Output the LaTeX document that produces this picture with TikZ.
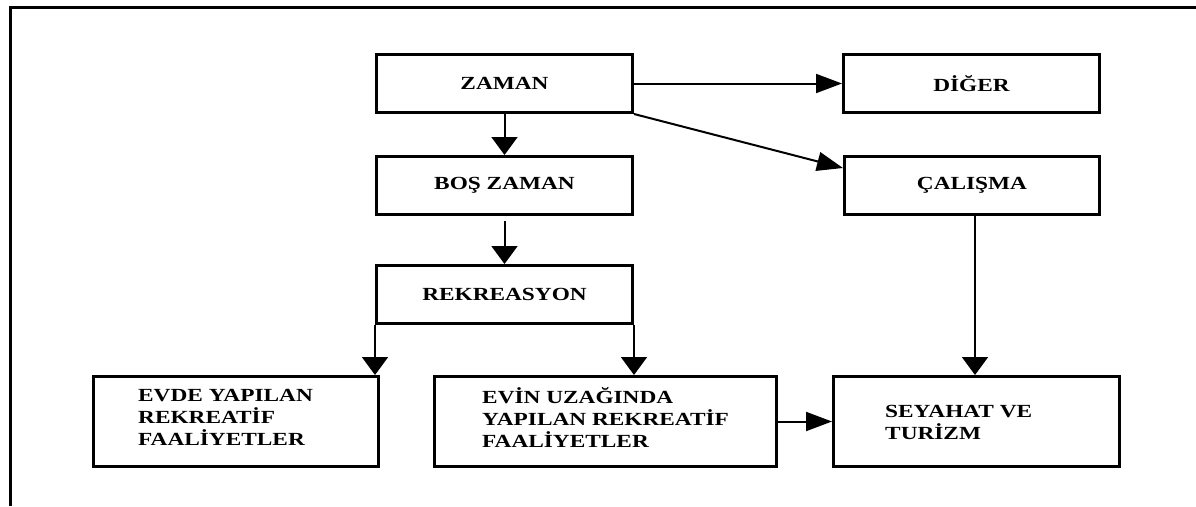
\documentclass[tikz,border=0pt]{standalone}
\usepackage{fontspec}
\setmainfont{Liberation Serif}[FakeStretch=1.26]
\usetikzlibrary{arrows.meta,calc}
\begin{document}
\begin{tikzpicture}[x=1pt,y=-1pt,
  box/.style={draw=black,line width=3pt,rectangle,inner sep=0pt,anchor=north west,
    font=\fontsize{18.5}{22}\selectfont\bfseries},
  txt/.style={anchor=base west,inner sep=0pt,font=\fontsize{18.5}{22}\selectfont\bfseries},
  conn/.style={line width=2pt},
  harr/.style={conn,-{Triangle[length=26pt,width=19pt]}},
  varr/.style={conn,-{Triangle[length=18pt,width=26pt]}},
  frame/.style={line width=3pt}]
\useasboundingbox (0,0) rectangle (1196,506);
\draw[frame] (1196,7) -- (10,7) -- (10,506);

\node[box,minimum width=256pt,minimum height=58pt] (zaman) at (375,53) {ZAMAN};
\node[box,minimum width=256pt,minimum height=58pt] (diger) at (842,53) {DİĞER};
\node[box,minimum width=256pt,minimum height=58pt] (bos) at (375,155) {BOŞ ZAMAN};
\node[box,minimum width=255pt,minimum height=58pt] (calisma) at (843,155) {ÇALIŞMA};
\node[box,minimum width=256pt,minimum height=58pt] (rek) at (375,264) {REKREASYON};
\node[box,minimum width=285pt,minimum height=90pt] (evde) at (92,375) {};
\node[box,minimum width=342pt,minimum height=90pt] (evin) at (433,375) {};
\node[box,minimum width=286pt,minimum height=90pt] (sey) at (832,375) {};

\node[txt] (evde1) at (138,401) {EVDE YAPILAN};
\node[txt] (evde2) at (138,423) {REKREATİF};
\node[txt] (evde3) at (138,445) {FAALİYETLER};
\node[txt] (evin1) at (482,403) {EVİN UZAĞINDA};
\node[txt] (evin2) at (482,425) {YAPILAN REKREATİF};
\node[txt] (evin3) at (482,447) {FAALİYETLER};
\node[txt] (sey1) at (885,417) {SEYAHAT VE};
\node[txt] (sey2) at (885,439) {TURİZM};

\draw[varr] (zaman.south) -- (bos.north);
\draw[harr] (zaman.east) -- (diger.west);
\draw[harr] (zaman.south east) -- ([yshift=-13pt]calisma.north west);
\draw[varr,shorten <=5pt] (bos.south) -- (rek.north);
\draw[varr] (rek.south west) -- (rek.south west |- evde.north);
\draw[varr] (rek.south east) -- (rek.south east |- evin.north);
\draw[varr] ([xshift=3pt]calisma.south) -- ([xshift=3pt]calisma.south |- sey.north);
\draw[harr] (evin.east) -- (sey.west);
\end{tikzpicture}
\end{document}
